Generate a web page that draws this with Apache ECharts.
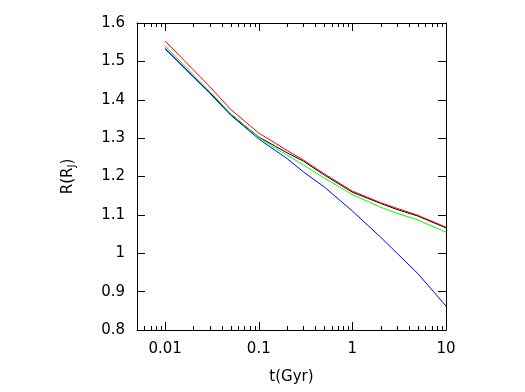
<!DOCTYPE html>
<html><head><meta charset="utf-8">
<script src="https://cdn.jsdelivr.net/npm/echarts@6/dist/echarts.min.js"></script>
<style>html,body{margin:0;padding:0;background:#fff}#c{width:525px;height:392px}</style>
</head><body><div id="c"></div>
<script>
const times  = [0.01, 0.02, 0.03, 0.05, 0.07, 0.1, 0.15, 0.2, 0.3, 0.5, 1, 2, 3, 5, 10];
const blackR = [1.533, 1.460, 1.418, 1.363, 1.333, 1.303, 1.279, 1.262, 1.240, 1.204, 1.159, 1.130, 1.114, 1.097, 1.066];
const redR   = [1.553, 1.478, 1.434, 1.375, 1.345, 1.313, 1.287, 1.268, 1.243, 1.207, 1.162, 1.132, 1.117, 1.099, 1.068];
const greenR = [1.540, 1.465, 1.421, 1.364, 1.334, 1.302, 1.274, 1.256, 1.230, 1.196, 1.153, 1.120, 1.104, 1.087, 1.055];
const blueR  = [1.533, 1.460, 1.417, 1.360, 1.330, 1.298, 1.268, 1.247, 1.212, 1.173, 1.110, 1.042, 1.000, 0.947, 0.8625];
const minorTickValues = [0.006,0.007,0.008,0.009,0.02,0.03,0.04,0.05,0.06,0.07,0.08,0.09,
  0.2,0.3,0.4,0.5,0.6,0.7,0.8,0.9,2,3,4,5,6,7,8,9];
const xTickLabels = ['0.01','0.1','1','10'];
const yMin = 0.8, yMax = 1.6, yStep = 0.1;

const pair = arr => times.map((t, i) => [t, arr[i]]);
const font = 'DejaVu Sans';
const chart = echarts.init(document.getElementById('c'), null, {renderer: 'canvas'});
const lineSeries = (name, data, color) => ({
  name, type: 'line', data: pair(data), showSymbol: false, symbol: 'none',
  lineStyle: {color, width: 1}, animation: false, z: 3
});
chart.setOption({
  animation: false,
  backgroundColor: '#fff',
  grid: {left: 137, right: 79, top: 23, bottom: 62},
  xAxis: [{
    type: 'log', logBase: 10, min: 0.005, max: 10, position: 'bottom',
    name: 't(Gyr)', nameLocation: 'middle', nameGap: 40,
    nameTextStyle: {fontFamily: font, fontSize: 15, color: '#000'},
    axisLine: {lineStyle: {color: '#000', width: 1}},
    axisTick: {inside: true, length: 8, lineStyle: {color: '#000'}},
    axisLabel: {fontFamily: font, fontSize: 15, color: '#000', margin: 12, showMinLabel: false,
      formatter: v => { const s = xTickLabels.find(l => Math.abs(parseFloat(l) - v) < 1e-9 * Math.max(1, v)); return s || ''; }},
    splitLine: {show: false}
  }, {
    type: 'log', logBase: 10, min: 0.005, max: 10, position: 'top',
    axisLine: {lineStyle: {color: '#000', width: 1}},
    axisTick: {inside: true, length: 8, lineStyle: {color: '#000'}},
    axisLabel: {show: false}, splitLine: {show: false}
  }],
  yAxis: [{
    type: 'value', min: yMin, max: yMax, interval: yStep, position: 'left',
    name: '{a|R(R}{b|J}{a|)}', nameLocation: 'middle', nameGap: 60, nameRotate: 90,
    nameTextStyle: {fontFamily: font, fontSize: 15, color: '#000',
      rich: {a: {fontFamily: font, fontSize: 15, color: '#000'},
             b: {fontFamily: font, fontSize: 10, color: '#000', padding: [8, 0, 0, 0]}}},
    axisLine: {show: true, lineStyle: {color: '#000', width: 1}},
    axisTick: {show: true, inside: true, length: 8, lineStyle: {color: '#000'}},
    axisLabel: {fontFamily: font, fontSize: 15, color: '#000', margin: 12},
    splitLine: {show: false}
  }, {
    type: 'value', min: yMin, max: yMax, interval: yStep, position: 'right',
    axisLine: {show: true, lineStyle: {color: '#000', width: 1}},
    axisTick: {show: true, inside: true, length: 8, lineStyle: {color: '#000'}},
    axisLabel: {show: false}, splitLine: {show: false}
  }],
  series: [
    lineSeries('black', blackR, '#000000'),
    lineSeries('red', redR, '#ff0000'),
    lineSeries('green', greenR, '#00ff00'),
    lineSeries('blue', blueR, '#0000ff'),
    {
      type: 'custom', data: minorTickValues.map(v => [v]), silent: true, z: 4,
      clip: false,
      renderItem: (params, api) => {
        const v = api.value(0);
        const b = api.coord([v, yMin]);
        const t = api.coord([v, yMax]);
        const x = Math.round(b[0]) + 0.5;
        const st = {stroke: '#000', lineWidth: 1};
        return {type: 'group', children: [
          {type: 'line', shape: {x1: x, y1: b[1], x2: x, y2: b[1] - 4}, style: st},
          {type: 'line', shape: {x1: x, y1: t[1], x2: x, y2: t[1] + 4}, style: st}
        ]};
      }
    }
  ]
});
</script></body></html>
